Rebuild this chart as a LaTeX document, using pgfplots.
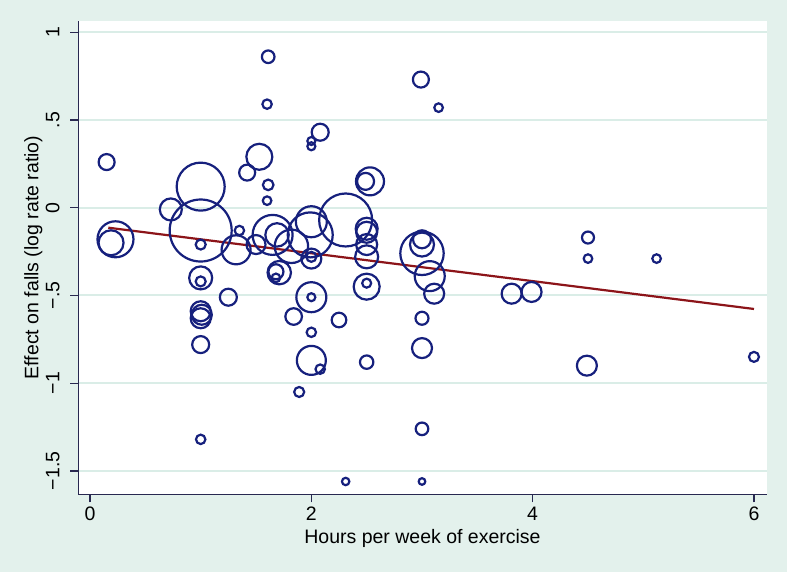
\documentclass[border=0pt]{standalone}
\usepackage{pgfplots}
\pgfplotsset{compat=1.18}
\usepackage{pgfplotstable}
\usepackage{fontspec}
\setmainfont{Liberation Sans}
\definecolor{outerbg}{RGB}{227,241,236}
\definecolor{gridc}{RGB}{218,237,231}
\definecolor{navyc}{RGB}{22,32,125}
\definecolor{axisc}{RGB}{40,40,80}
\definecolor{fitc}{RGB}{140,20,25}

\pgfplotstableread{
x y r
0.15 0.26 8
0.23 -0.18 18
0.19 -0.20 12.5
0.73 -0.01 11
1.00 0.12 24
1.00 -0.13 31
1.00 -0.21 5
1.00 -0.40 11.5
1.00 -0.42 5
1.00 -0.59 10
1.01 -0.61 10
1.00 -0.63 10
1.00 -0.78 8.5
1.00 -1.32 4.7
1.25 -0.51 8.5
1.35 -0.13 4.7
1.32 -0.24 14.5
1.50 -0.21 9.5
1.42 0.20 8
1.53 0.29 13
1.61 0.13 5.3
1.60 0.04 4.3
1.60 0.59 4.7
1.61 0.86 6.3
2.08 0.43 8.5
2.00 0.38 4
2.00 0.35 4
1.65 -0.155 20
1.69 -0.155 11.7
1.82 -0.22 16.7
2.00 -0.08 15.5
1.99 -0.155 22.5
2.31 -0.07 26.5
2.00 -0.29 10
2.00 -0.28 5
1.71 -0.37 11.7
1.68 -0.365 7.5
1.68 -0.40 4.3
2.00 -0.51 15
2.00 -0.51 4
1.84 -0.62 8.3
2.00 -0.71 4.7
2.00 -0.87 14.5
2.08 -0.92 4.7
1.89 -1.05 5
2.25 -0.64 7.3
2.31 -1.56 3.7
2.53 0.15 14
2.49 0.15 8.5
2.50 -0.12 11
2.50 -0.14 10.5
2.50 -0.21 10.5
2.50 -0.28 11.5
2.50 -0.45 13
2.50 -0.43 4.5
2.50 -0.88 6.7
3.00 -0.26 21.7
3.00 -0.21 12
3.00 -0.18 9
3.07 -0.39 15
3.11 -0.49 10
2.99 0.73 8
3.15 0.57 4.3
4.50 -0.17 6
4.50 -0.29 4.3
5.12 -0.29 4.3
3.81 -0.49 10
3.99 -0.48 10
3.00 -0.63 6.5
3.00 -0.80 10
4.49 -0.90 10
6.00 -0.85 5
3.00 -1.26 6.3
3.00 -1.56 3.3
}\bubbles

\begin{document}
\fontsize{19.5}{23}\selectfont
\begin{tikzpicture}
\fill[outerbg] (-78.3pt,-77.7pt) rectangle (708.7pt,494.3pt);
\useasboundingbox (-78.3pt,-77.7pt) rectangle (708.7pt,494.3pt);
\begin{axis}[
  at={(0,0)}, anchor=south west,
  scale only axis, width=688.4pt, height=473.6pt,
  xmin=-0.106, xmax=6.115, ymin=-1.633, ymax=1.0655,
  axis x line*=bottom, axis y line*=left,
  axis line style={color=axisc, line width=1.2pt},
  axis background/.style={fill=white},
  xtick={0,2,4,6}, ytick={-1.5,-1,-0.5,0,0.5,1},
  xticklabels={0,2,4,6},
  yticklabels={−1.5,−1,−.5,0,.5,1},
  /pgf/number format/assume math mode=true,
  tick align=outside, major tick length=8pt,
  tick style={color=axisc, line width=1.2pt},
  ymajorgrids, grid style={color=gridc, line width=2pt},
  xticklabel style={anchor=base, inner sep=0pt, yshift=-18pt},
  yticklabel style={xshift=-11pt, rotate=90, anchor=base, inner sep=0pt},
  every axis x label/.style={at={(axis description cs:0.5,0)}, yshift=-49pt, anchor=base, inner sep=0pt},
  every axis y label/.style={at={(axis description cs:0,0.5)}, xshift=-40pt, rotate=90, anchor=base, inner sep=0pt},
  xlabel={Hours per week of exercise},
  ylabel={Effect on falls (log rate ratio)},
  clip=false,
]
\addplot[scatter, only marks, mark=o, line width=2.2pt, point meta=y,
  scatter/use mapped color={draw=navyc},
  visualization depends on={\thisrow{r} \as \rad},
  scatter/@pre marker code/.append style={/tikz/mark size=\rad pt}]
  table[x=x, y=y] {\bubbles};
\addplot[fitc, line width=2.2pt, no marks] coordinates {(0.165,-0.114) (6.0,-0.577)};
\end{axis}
\end{tikzpicture}
\end{document}
